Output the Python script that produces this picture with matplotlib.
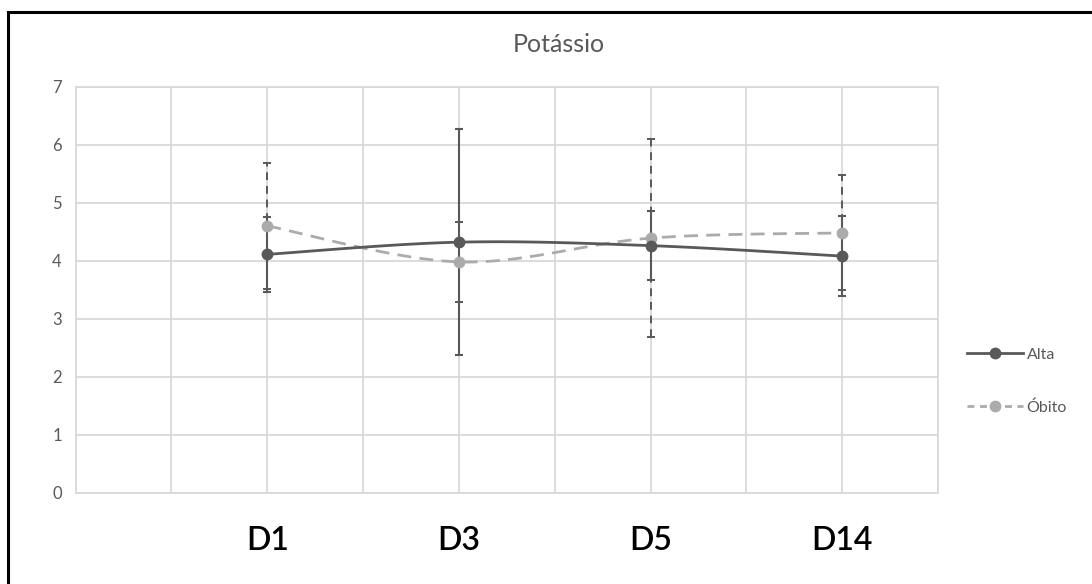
import numpy as np
import matplotlib
matplotlib.use("Agg")
import matplotlib.pyplot as plt
from matplotlib.lines import Line2D
from matplotlib.patches import Rectangle

# ---- data ----
categories = ["D1", "D3", "D5", "D14"]
x_pos = [2, 4, 6, 8]
alta_mean = [4.11, 4.32, 4.26, 4.08]
alta_err = [0.65, 1.95, 0.60, 0.69]
obito_mean = [4.60, 3.98, 4.39, 4.48]
obito_err = [1.08, 0.69, 1.71, 0.99]
y_ticks = [0, 1, 2, 3, 4, 5, 6, 7]
title = "Potássio"
series_names = ["Alta", "Óbito"]

plt.rcParams['font.family'] = ['Lato', 'DejaVu Sans']

DARK = "#595959"
LIGHT = "#ABABAB"
GRID = "#D9D9D9"


def smooth(xs, ys, n=40):
    """Excel-like smoothed line (Catmull-Rom Bezier) through the points."""
    P = np.column_stack([xs, ys]).astype(float)
    ext = np.vstack([P[0], P, P[-1]])
    out = []
    t = np.linspace(0, 1, n)[:, None]
    for i in range(len(P) - 1):
        p0, p1, p2, p3 = ext[i], ext[i + 1], ext[i + 2], ext[i + 3]
        c1 = p1 + (p2 - p0) / 6.0
        c2 = p2 - (p3 - p1) / 6.0
        seg = ((1 - t) ** 3) * p1 + 3 * ((1 - t) ** 2) * t * c1 + 3 * (1 - t) * t ** 2 * c2 + t ** 3 * p2
        out.append(seg if i == 0 else seg[1:])
    out = np.vstack(out)
    return out[:, 0], out[:, 1]


fig = plt.figure(figsize=(10.92, 5.84), dpi=100)
ax = fig.add_axes([0.0693, 0.1563, 0.7897, 0.6952])

# error bars
eb1 = ax.errorbar(x_pos, alta_mean, yerr=alta_err, fmt="none", ecolor=DARK,
                  elinewidth=1.5, capsize=3, capthick=1.5, zorder=3)
eb2 = ax.errorbar(x_pos, obito_mean, yerr=obito_err, fmt="none", ecolor=DARK,
                  elinewidth=1.4, capsize=3, capthick=1.4, zorder=3)
for c in eb2[2]:
    c.set_linestyle((0, (4, 3)))

# smoothed lines
sx, sy = smooth(x_pos, obito_mean)
ax.plot(sx, sy, color=LIGHT, lw=2.0, ls=(0, (5, 3)), zorder=4)
ax.plot(x_pos, obito_mean, "o", color=LIGHT, ms=7.5, zorder=5)
sx, sy = smooth(x_pos, alta_mean)
ax.plot(sx, sy, color=DARK, lw=2.0, zorder=6)
ax.plot(x_pos, alta_mean, "o", color=DARK, ms=7.5, zorder=7)

ax.set_xlim(0, 9)
ax.set_ylim(0, 7)
ax.set_yticks(y_ticks)
ax.set_xticks(x_pos)
ax.set_xticklabels(categories, fontsize=23, color="black", fontweight="semibold")
ax.set_xticks(np.arange(0, 10), minor=True)
ax.tick_params(axis="x", which="both", length=0, pad=24)
ax.tick_params(axis="y", length=0, pad=10, labelsize=12, labelcolor=DARK)
ax.grid(True, which="both", color=GRID, lw=1.3)
ax.set_axisbelow(True)
for s in ax.spines.values():
    s.set_color(GRID)
    s.set_linewidth(1.3)

fig.text(0.512, 0.923, title, ha="center", va="center", fontsize=18, color=DARK)

# legend
h1 = Line2D([0], [0], color=DARK, lw=2.0, marker="o", ms=7.5)
h2 = Line2D([0], [0], color=LIGHT, lw=2.0, ls=(0, (2.5, 2)), marker="o", ms=7.5)
fig.legend([h1, h2], series_names, loc="center left", bbox_to_anchor=(0.872, 0.347),
           frameon=False, handlelength=3.5, handletextpad=0.25, labelspacing=2.4,
           fontsize=11.5, labelcolor=DARK)

# outer border (left and top visible)
fig.patches.append(Rectangle((8 / 1092, -0.1), 1.2, (584 - 12) / 584 + 0.1,
                             transform=fig.transFigure, fill=False,
                             edgecolor="black", lw=2.2))

fig.savefig("out.png", dpi=100)
